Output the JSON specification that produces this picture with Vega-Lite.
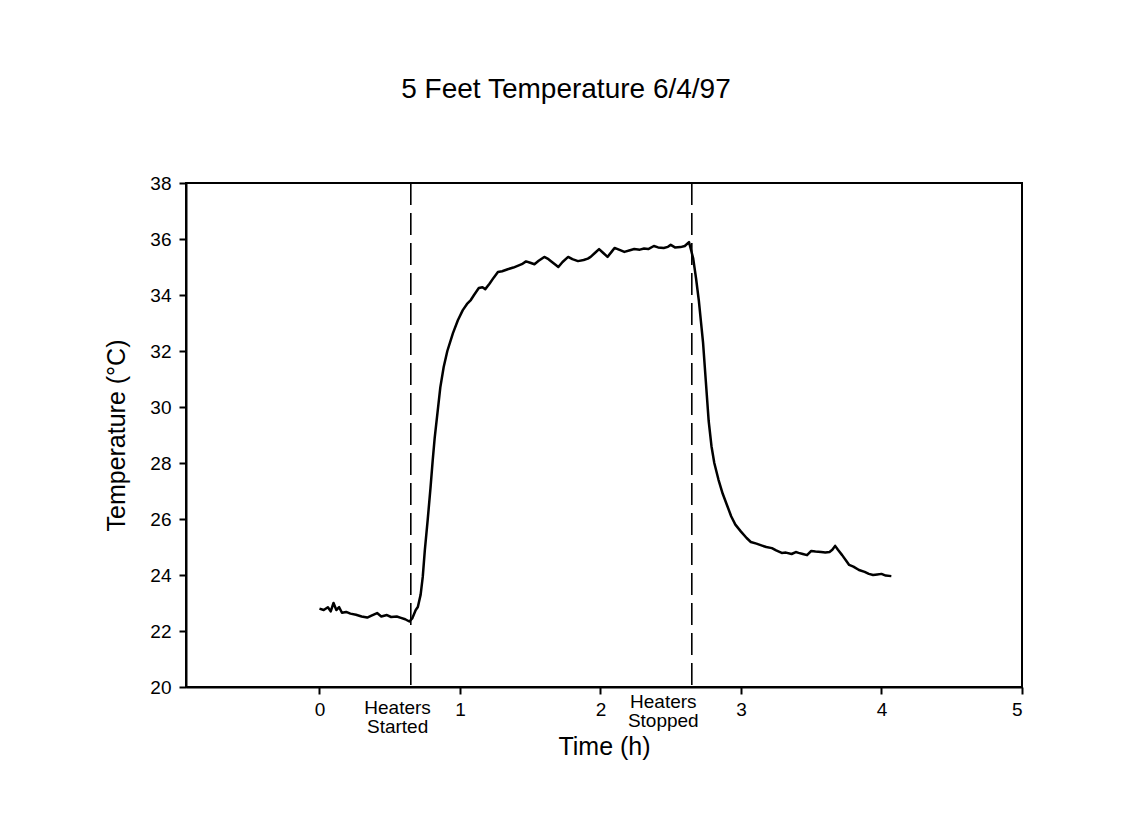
{
  "$schema": "https://vega.github.io/schema/vega-lite/v6.json",
  "width": 836,
  "height": 504,
  "autosize": "none",
  "padding": {"left": 186, "top": 183, "right": 116, "bottom": 145},
  "background": "white",
  "config": {
    "view": {"stroke": "black", "strokeWidth": 2},
    "font": "Liberation Sans"
  },
  "title": {
    "text": "5 Feet Temperature 6/4/97",
    "fontSize": 28,
    "fontWeight": "normal",
    "color": "black",
    "anchor": "middle",
    "frame": "group",
    "baseline": "alphabetic",
    "offset": 48,
    "dx": -38
  },
  "datasets": {
    "temp": [
      {"t": 0.00, "T": 22.80}, {"t": 0.03, "T": 22.75}, {"t": 0.06, "T": 22.85}, {"t": 0.08, "T": 22.70},
      {"t": 0.10, "T": 23.00}, {"t": 0.12, "T": 22.75}, {"t": 0.14, "T": 22.85}, {"t": 0.16, "T": 22.65},
      {"t": 0.19, "T": 22.68}, {"t": 0.22, "T": 22.62}, {"t": 0.26, "T": 22.58}, {"t": 0.30, "T": 22.52},
      {"t": 0.34, "T": 22.48}, {"t": 0.37, "T": 22.55}, {"t": 0.41, "T": 22.64}, {"t": 0.44, "T": 22.52},
      {"t": 0.48, "T": 22.57}, {"t": 0.51, "T": 22.50}, {"t": 0.55, "T": 22.52}, {"t": 0.58, "T": 22.47},
      {"t": 0.61, "T": 22.42}, {"t": 0.64, "T": 22.34}, {"t": 0.66, "T": 22.45}, {"t": 0.685, "T": 22.75},
      {"t": 0.70, "T": 22.86}, {"t": 0.72, "T": 23.3}, {"t": 0.735, "T": 23.93}, {"t": 0.75, "T": 24.9},
      {"t": 0.77, "T": 25.96}, {"t": 0.79, "T": 27.1}, {"t": 0.806, "T": 28.1}, {"t": 0.82, "T": 28.9},
      {"t": 0.84, "T": 29.8}, {"t": 0.86, "T": 30.7}, {"t": 0.884, "T": 31.43}, {"t": 0.91, "T": 32.0},
      {"t": 0.95, "T": 32.64}, {"t": 0.985, "T": 33.1}, {"t": 1.02, "T": 33.46}, {"t": 1.05, "T": 33.68},
      {"t": 1.077, "T": 33.82}, {"t": 1.10, "T": 34.0}, {"t": 1.134, "T": 34.25}, {"t": 1.16, "T": 34.28},
      {"t": 1.18, "T": 34.21}, {"t": 1.21, "T": 34.40}, {"t": 1.24, "T": 34.62}, {"t": 1.27, "T": 34.82},
      {"t": 1.30, "T": 34.85}, {"t": 1.34, "T": 34.92}, {"t": 1.38, "T": 34.98}, {"t": 1.41, "T": 35.04},
      {"t": 1.44, "T": 35.10}, {"t": 1.47, "T": 35.20}, {"t": 1.50, "T": 35.15}, {"t": 1.53, "T": 35.10},
      {"t": 1.56, "T": 35.22}, {"t": 1.60, "T": 35.36}, {"t": 1.63, "T": 35.28}, {"t": 1.65, "T": 35.20},
      {"t": 1.68, "T": 35.08}, {"t": 1.70, "T": 35.00}, {"t": 1.73, "T": 35.18}, {"t": 1.77, "T": 35.36},
      {"t": 1.80, "T": 35.28}, {"t": 1.84, "T": 35.21}, {"t": 1.88, "T": 35.25}, {"t": 1.91, "T": 35.30},
      {"t": 1.93, "T": 35.36}, {"t": 1.96, "T": 35.50}, {"t": 1.99, "T": 35.64}, {"t": 2.02, "T": 35.50},
      {"t": 2.05, "T": 35.36}, {"t": 2.08, "T": 35.55}, {"t": 2.10, "T": 35.68}, {"t": 2.14, "T": 35.60},
      {"t": 2.17, "T": 35.54}, {"t": 2.21, "T": 35.60}, {"t": 2.24, "T": 35.64}, {"t": 2.28, "T": 35.62},
      {"t": 2.31, "T": 35.66}, {"t": 2.34, "T": 35.64}, {"t": 2.38, "T": 35.75}, {"t": 2.41, "T": 35.70},
      {"t": 2.45, "T": 35.68}, {"t": 2.48, "T": 35.72}, {"t": 2.50, "T": 35.79}, {"t": 2.53, "T": 35.70},
      {"t": 2.57, "T": 35.71}, {"t": 2.60, "T": 35.75}, {"t": 2.63, "T": 35.89}, {"t": 2.645, "T": 35.60},
      {"t": 2.66, "T": 35.30}, {"t": 2.68, "T": 34.60}, {"t": 2.70, "T": 33.80}, {"t": 2.72, "T": 32.8},
      {"t": 2.73, "T": 32.3}, {"t": 2.75, "T": 30.9}, {"t": 2.77, "T": 29.5}, {"t": 2.79, "T": 28.6},
      {"t": 2.81, "T": 28.0}, {"t": 2.84, "T": 27.4}, {"t": 2.87, "T": 26.9}, {"t": 2.90, "T": 26.5},
      {"t": 2.93, "T": 26.1}, {"t": 2.96, "T": 25.8}, {"t": 3.00, "T": 25.55}, {"t": 3.04, "T": 25.32},
      {"t": 3.07, "T": 25.18}, {"t": 3.11, "T": 25.12}, {"t": 3.15, "T": 25.05}, {"t": 3.18, "T": 25.00},
      {"t": 3.22, "T": 24.96}, {"t": 3.25, "T": 24.88}, {"t": 3.29, "T": 24.79}, {"t": 3.32, "T": 24.80},
      {"t": 3.36, "T": 24.75}, {"t": 3.39, "T": 24.82}, {"t": 3.41, "T": 24.79}, {"t": 3.44, "T": 24.75},
      {"t": 3.47, "T": 24.71}, {"t": 3.50, "T": 24.86}, {"t": 3.53, "T": 24.84}, {"t": 3.57, "T": 24.82},
      {"t": 3.60, "T": 24.80}, {"t": 3.63, "T": 24.82}, {"t": 3.65, "T": 24.90}, {"t": 3.67, "T": 25.04},
      {"t": 3.69, "T": 24.90}, {"t": 3.72, "T": 24.71}, {"t": 3.75, "T": 24.50}, {"t": 3.77, "T": 24.36},
      {"t": 3.80, "T": 24.30}, {"t": 3.84, "T": 24.18}, {"t": 3.88, "T": 24.11}, {"t": 3.91, "T": 24.04},
      {"t": 3.94, "T": 24.00}, {"t": 3.97, "T": 24.02}, {"t": 4.00, "T": 24.04}, {"t": 4.03, "T": 23.98},
      {"t": 4.07, "T": 23.96}
    ],
    "events": [
      {"t": 0.65, "event": "Heaters Started"},
      {"t": 2.65, "event": "Heaters Stopped"}
    ],
    "notes": [
      {"t": 0.556, "T": 19.04, "label": "Heaters\nStarted"},
      {"t": 2.447, "T": 19.25, "label": "Heaters\nStopped"}
    ]
  },
  "layer": [
    {
      "data": {"name": "temp"},
      "mark": {"type": "line", "color": "black", "strokeWidth": 2.5, "strokeJoin": "round"},
      "encoding": {
        "x": {
          "field": "t", "type": "quantitative",
          "scale": {"domain": [-0.95, 5], "nice": false, "zero": false},
          "axis": {
            "title": "Time (h)", "values": [0, 1, 2, 3, 4, 5], "format": "d", "grid": false,
            "tickSize": 7, "tickWidth": 2, "tickColor": "black",
            "domainColor": "black", "domainWidth": 2,
            "labelFontSize": 19, "labelColor": "black", "labelPadding": 6,
            "titleFontSize": 25, "titleFontWeight": "normal", "titleColor": "black", "titlePadding": 15
          }
        },
        "y": {
          "field": "T", "type": "quantitative",
          "scale": {"domain": [20, 38], "nice": false, "zero": false},
          "axis": {
            "title": "Temperature (°C)", "values": [20, 22, 24, 26, 28, 30, 32, 34, 36, 38], "format": "d", "grid": false,
            "tickSize": 7, "tickWidth": 2, "tickColor": "black",
            "domainColor": "black", "domainWidth": 2,
            "labelFontSize": 19, "labelColor": "black", "labelPadding": 8,
            "titleFontSize": 25, "titleFontWeight": "normal", "titleColor": "black", "titlePadding": 20
          }
        }
      }
    },
    {
      "data": {"name": "events"},
      "mark": {"type": "rule", "color": "black", "strokeWidth": 1.6, "strokeDash": [22, 8]},
      "encoding": {
        "x": {"field": "t", "type": "quantitative"}
      }
    },
    {
      "data": {"name": "notes"},
      "mark": {"type": "text", "fontSize": 19, "lineHeight": 19, "lineBreak": "\n", "align": "center", "baseline": "alphabetic", "color": "black", "clip": false},
      "encoding": {
        "x": {"field": "t", "type": "quantitative"},
        "y": {"field": "T", "type": "quantitative"},
        "text": {"field": "label", "type": "nominal"}
      }
    }
  ]
}
